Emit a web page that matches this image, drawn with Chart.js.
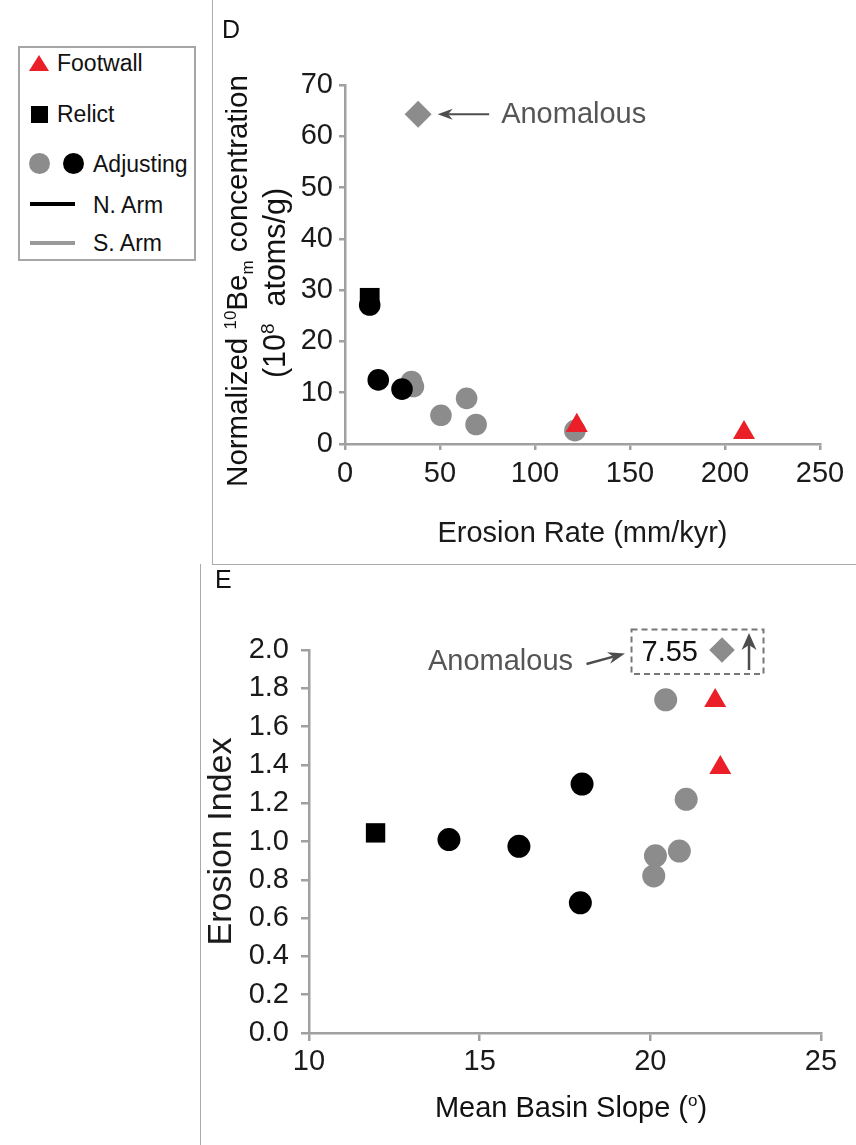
<!DOCTYPE html>
<html>
<head>
<meta charset="utf-8">
<script src="https://cdn.jsdelivr.net/npm/chart.js@4.4.0/dist/chart.umd.min.js"></script>
<style>
  body { margin: 0; background: #fff; width: 856px; height: 1145px; position: relative; overflow: hidden;
         font-family: "Liberation Sans", Arial, sans-serif; color: #111; }
  .abs { position: absolute; }
  .rule { position: absolute; background: #ababab; }
  .leg { position: absolute; font-size: 23px; line-height: 26px; white-space: nowrap; }
</style>
</head>
<body>
<!-- panel frames -->
<div class="rule" style="left:212px;top:0;width:1px;height:564px"></div>
<div class="rule" style="left:212px;top:564px;width:644px;height:1px"></div>
<div class="rule" style="left:200px;top:564px;width:1px;height:581px"></div>

<!-- legend -->
<div class="abs" style="left:18px;top:46px;width:174px;height:211px;border:2px solid #a6a6a6"></div>
<div class="abs" style="left:29px;top:55px;width:0;height:0;border-left:10px solid transparent;border-right:10px solid transparent;border-bottom:16px solid #ea1f27"></div>
<div class="leg" style="left:57px;top:50px">Footwall</div>
<div class="abs" style="left:31px;top:106px;width:17px;height:17px;background:#000"></div>
<div class="leg" style="left:57px;top:101px">Relict</div>
<div class="abs" style="left:29px;top:153px;width:21px;height:21px;border-radius:50%;background:#8c8c8c"></div>
<div class="abs" style="left:63px;top:153px;width:21px;height:21px;border-radius:50%;background:#000"></div>
<div class="leg" style="left:93px;top:151px">Adjusting</div>
<div class="abs" style="left:30px;top:202px;width:45px;height:4px;background:#000"></div>
<div class="leg" style="left:93px;top:192px">N. Arm</div>
<div class="abs" style="left:30px;top:241px;width:45px;height:4px;background:#999"></div>
<div class="leg" style="left:93px;top:230px">S. Arm</div>

<canvas id="chartD" class="abs" style="left:213px;top:0" width="643" height="563"></canvas>
<canvas id="chartE" class="abs" style="left:201px;top:565px" width="655" height="580"></canvas>

<script>
const FONT = '"Liberation Sans", Arial, sans-serif';
const RED = '#ea1f27';
const GRAY = '#8c8c8c';
const BLACK = '#000000';
const AXIS = '#a0a0a0';

// ---- panel D : erosion rate vs normalized 10Be concentration ----
const footwallRateD = [122, 210];
const footwallConcD = [3.6, 2.2];
const relictRateD = [13];
const relictConcD = [28.5];
const northRateD = [13, 17.5, 30];
const northConcD = [27.1, 12.5, 10.7];
const southRateD = [35, 36, 50.5, 64, 69, 121];
const southConcD = [12.2, 11.2, 5.6, 8.9, 3.8, 2.6];
const anomRateD = [38.5];
const anomConcD = [64.3];
const xTicksD = [0, 250, 50];   // min, max, step
const yTicksD = [0, 70, 10];

// ---- panel E : mean basin slope vs erosion index ----
const footwallSlopeE = [21.9, 22.05];
const footwallIndexE = [1.735, 1.385];
const relictSlopeE = [11.95];
const relictIndexE = [1.045];
const northSlopeE = [14.1, 16.15, 18.0, 17.95];
const northIndexE = [1.01, 0.975, 1.30, 0.68];
const southSlopeE = [20.45, 21.05, 20.15, 20.85, 20.1];
const southIndexE = [1.74, 1.22, 0.925, 0.95, 0.82];
const anomSlopeE = [22.1];
const anomIndexE = [7.55];
const xTicksE = [10, 25, 5];
const yTicksE = [0, 2, 0.2];

Chart.defaults.font.family = FONT;
Chart.defaults.color = '#1a1a1a';

function pts(xs, ys) {
    return xs.map((v, i) => ({ x: v, y: ys[i] }));
}

function ds(label, data, color, style, radius) {
    return {
        label: label,
        data: data,
        pointStyle: style,
        pointRadius: radius,
        backgroundColor: color,
        borderColor: color,
        pointBorderWidth: 0,
        showLine: false,
        clip: false
    };
}

// text made of pieces with their own size and baseline shift
function drawRich(ctx, parts, x, y, rotate) {
    ctx.save();
    ctx.translate(x, y);
    if (rotate) ctx.rotate(-Math.PI / 2);
    ctx.textBaseline = 'alphabetic';
    ctx.textAlign = 'left';
    let w = 0;
    parts.forEach(p => {
        ctx.font = p[1] + 'px ' + FONT;
        w += ctx.measureText(p[0]).width;
    });
    let cx = -w / 2;
    parts.forEach(p => {
        ctx.font = p[1] + 'px ' + FONT;
        ctx.fillText(p[0], cx, p[2] || 0);
        cx += ctx.measureText(p[0]).width;
    });
    ctx.restore();
}

function arrow(ctx, x1, y1, x2, y2, len, half, color, lw) {
    const a = Math.atan2(y2 - y1, x2 - x1);
    const c = Math.cos(a), s = Math.sin(a);
    ctx.strokeStyle = color;
    ctx.fillStyle = color;
    ctx.lineWidth = lw;
    ctx.beginPath();
    ctx.moveTo(x1, y1);
    ctx.lineTo(x2 - c * len * 0.7, y2 - s * len * 0.7);
    ctx.stroke();
    ctx.beginPath();
    ctx.moveTo(x2, y2);
    ctx.lineTo(x2 - c * len + s * half, y2 - s * len - c * half);
    ctx.lineTo(x2 - c * len * 0.7, y2 - s * len * 0.7);
    ctx.lineTo(x2 - c * len - s * half, y2 - s * len + c * half);
    ctx.closePath();
    ctx.fill();
}

function axisOpts(t, tickLen, pad, size) {
    return {
        type: 'linear',
        min: t[0],
        max: t[1],
        ticks: { stepSize: t[2], padding: pad, color: '#1a1a1a', font: { size: 29 } },
        grid: { drawOnChartArea: false, drawTicks: true, tickLength: tickLen, color: AXIS, lineWidth: 2.5 },
        border: { color: AXIS, width: 2.5 },
        afterFit: function (scale) {
            if (scale.isHorizontal()) scale.height = size; else scale.width = size;
        }
    };
}

const annotateD = {
    id: 'annotateD',
    afterDraw(chart) {
        const { ctx, scales: { x, y } } = chart;
        ctx.save();
        ctx.fillStyle = '#111';
        ctx.font = '25px ' + FONT;
        ctx.fillText('D', 9, 38);
        drawRich(ctx, [['Normalized ', 29.5], ['10', 17, -11], ['Be', 29.5], ['m', 17, 6], [' concentration', 29.5]], 34, 281, true);
        drawRich(ctx, [['(10', 30.5], ['8', 19, -11], ['  atoms/g)', 30.5]], 72, 283, true);
        const ax = x.getPixelForValue(anomRateD[0]);
        const ay = y.getPixelForValue(anomConcD[0]);
        arrow(ctx, ax + 71, ay, ax + 19.5, ay, 15, 5.5, '#4d4d4d', 2);
        ctx.fillStyle = '#555';
        ctx.font = '29px ' + FONT;
        ctx.fillText('Anomalous', ax + 83, ay + 8.5);
        ctx.restore();
    }
};

const annotateE = {
    id: 'annotateE',
    afterDraw(chart) {
        const { ctx, scales: { x, y }, chartArea } = chart;
        ctx.save();
        ctx.fillStyle = '#111';
        ctx.font = '25px ' + FONT;
        ctx.fillText('E', 14, 23);
        drawRich(ctx, [['Mean Basin Slope (', 29], ['o', 17, -11], [')', 29]], (chartArea.left + chartArea.right) / 2 + 6, chartArea.bottom + 84, false);
        const dx = x.getPixelForValue(anomSlopeE[0]);
        const dy = y.getPixelForValue(Math.min(anomIndexE[0], yTicksE[1]));
        // dashed frame round the capped point
        ctx.strokeStyle = '#777';
        ctx.lineWidth = 2;
        ctx.setLineDash([6, 4]);
        ctx.strokeRect(dx - 90.5, dy - 20.5, 132, 44.5);
        ctx.setLineDash([]);
        ctx.fillStyle = '#111';
        ctx.font = '29px ' + FONT;
        ctx.fillText(anomIndexE[0].toFixed(2), dx - 80.5, dy + 10.5);
        arrow(ctx, dx + 27, dy + 20, dx + 27, dy - 17, 17, 7.5, '#4d4d4d', 2.5);
        arrow(ctx, dx - 135.5, dy + 14, dx - 97, dy + 3.5, 17, 6, '#4d4d4d', 2.5);
        ctx.fillStyle = '#555';
        ctx.textAlign = 'right';
        ctx.fillText('Anomalous', dx - 149, dy + 19.5);
        ctx.restore();
    }
};

const xD = axisOpts(xTicksD, 6, 7, 119);
xD.title = { display: true, text: 'Erosion Rate (mm/kyr)', color: '#1a1a1a', font: { size: 29 }, padding: { top: 0, bottom: 12 } };
const yD = axisOpts(yTicksD, 6, 6, 132);

new Chart(document.getElementById('chartD'), {
    type: 'scatter',
    data: {
        datasets: [
            ds('Anomalous', pts(anomRateD, anomConcD), GRAY, 'rectRot', 13.5),
            ds('Footwall', pts(footwallRateD, footwallConcD), RED, 'triangle', 12.7),
            ds('N. Arm', pts(northRateD, northConcD), BLACK, 'circle', 10.8),
            ds('Relict', pts(relictRateD, relictConcD), BLACK, 'rect', 14),
            ds('S. Arm', pts(southRateD, southConcD), GRAY, 'circle', 10.8)
        ]
    },
    options: {
        responsive: false,
        animation: false,
        events: [],
        layout: { padding: { left: 0, right: 36, top: 85, bottom: 0 } },
        plugins: { legend: { display: false }, tooltip: { enabled: false } },
        scales: { x: xD, y: yD }
    },
    plugins: [annotateD]
});

const xE = axisOpts(xTicksE, 8, 4, 112);
const yE = axisOpts(yTicksE, 8, 12, 108);
yE.ticks.callback = v => v.toFixed(1);
yE.title = { display: true, text: 'Erosion Index', color: '#1a1a1a', font: { size: 34 }, padding: { top: 0, bottom: 0 } };

new Chart(document.getElementById('chartE'), {
    type: 'scatter',
    data: {
        datasets: [
            ds('Anomalous', pts(anomSlopeE, anomIndexE.map(v => Math.min(v, yTicksE[1]))), GRAY, 'rectRot', 12.8),
            ds('Footwall', pts(footwallSlopeE, footwallIndexE), RED, 'triangle', 12.7),
            ds('N. Arm', pts(northSlopeE, northIndexE), BLACK, 'circle', 11.5),
            ds('Relict', pts(relictSlopeE, relictIndexE), BLACK, 'rect', 13.7),
            ds('S. Arm', pts(southSlopeE, southIndexE), GRAY, 'circle', 11.5)
        ]
    },
    options: {
        responsive: false,
        animation: false,
        events: [],
        layout: { padding: { left: 0, right: 35, top: 85, bottom: 0 } },
        plugins: { legend: { display: false }, tooltip: { enabled: false } },
        scales: { x: xE, y: yE }
    },
    plugins: [annotateE]
});
</script>
</body>
</html>
